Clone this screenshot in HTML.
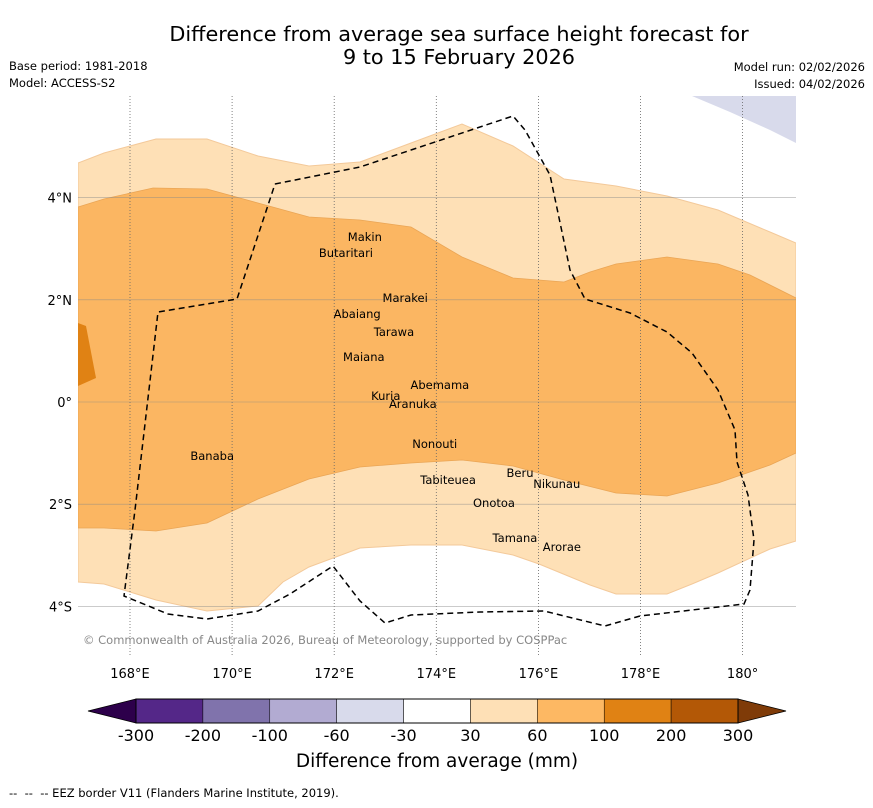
<!DOCTYPE html>
<html><head><meta charset="utf-8"><style>
body{margin:0;background:#fff;font-family:"DejaVu Sans","Liberation Sans",sans-serif}
svg text{font-family:"DejaVu Sans","Liberation Sans",sans-serif}
</style></head><body>
<svg id="chart" width="873" height="804" viewBox="0 0 873 804" xmlns="http://www.w3.org/2000/svg">
<rect width="873" height="804" fill="#fff"/>
<text x="459" y="41" text-anchor="middle" font-size="20.8">Difference from average sea surface height forecast for</text>
<text x="459" y="64" text-anchor="middle" font-size="20.8">9 to 15 February 2026</text>
<text x="9" y="70" font-size="11.5">Base period: 1981-2018</text>
<text x="9" y="87" font-size="11.5">Model: ACCESS-S2</text>
<text x="865" y="71" text-anchor="end" font-size="11.5">Model run: 02/02/2026</text>
<text x="865" y="88" text-anchor="end" font-size="11.5">Issued: 04/02/2026</text>
<g id="map"></g>
<g id="cbar"></g>
<text x="437" y="767" text-anchor="middle" font-size="18.5">Difference from average (mm)</text>
<text x="9" y="797" font-size="11.5" xml:space="preserve" style="white-space:pre">--  --  -- EEZ border V11 (Flanders Marine Institute, 2019).</text>
</svg>
<script>
const lonTicks=[168,170,172,174,176,178,180];
const lonLabels=["168°E","170°E","172°E","174°E","176°E","178°E","180°"];
const latTicks=[4,2,0,-2,-4];
const latLabels=["4°N","2°N","0°","2°S","4°S"];
const cbarBounds=["-300","-200","-100","-60","-30","30","60","100","200","300"];
const cbarColors=["#542788","#8073ac","#b2abd2","#d8daeb","#ffffff","#fee0b6","#fdb863","#e08214","#b35806"];
const P=(a)=>a.map(p=>[168+(p[0]-130)/51.05,(402-p[1])/51.1]);
const light=P([[78,163],[104,153],[156,139],[207,139],[258,156],[309,166],[360,162],[411,143],[462,124],[513,146],[564,179],[616,186],[667,196],[718,210],[770,232],[796,243],[796,541],[770,549],[718,573],[692,584],[667,594],[616,594],[590,585],[539,564],[513,555],[462,545],[411,545],[360,548],[309,567],[283,582],[258,606],[207,611],[156,600],[104,584],[78,582]]);
const mid=P([[78,207],[104,199],[153,188],[207,189],[258,203],[309,217],[360,220],[411,227],[462,257],[513,278],[564,282],[590,272],[616,264],[667,257],[718,264],[750,275],[796,298],[796,453],[770,465],[718,483],[667,496],[616,493],[564,480],[513,466],[462,460],[411,463],[360,467],[309,479],[258,499],[207,523],[156,531],[104,528],[78,528]]);
const dark=P([[78,323],[86,326],[96,378],[78,386]]);
const purple=P([[692,96],[796,96],[796,143],[770,130],[730,112]]);
const eez=P([[275,184],[360,167],[513,116],[525,130],[550,175],[570,270],[585,299],[630,313],[667,332],[692,353],[718,390],[735,430],[737,462],[748,495],[754,540],[750,590],[744,604],[640,616],[605,626],[544,611],[480,612],[411,615],[385,623],[360,601],[333,566],[290,594],[258,611],[207,619],[168,614],[124,596],[135,510],[158,312],[237,299],[275,184]]);
const islands=[["Makin",172.60,3.23],["Butaritari",172.23,2.92],["Marakei",173.39,2.04],["Abaiang",172.45,1.72],["Tarawa",173.17,1.37],["Maiana",172.58,0.88],["Abemama",174.07,0.33],["Kuria",173.01,0.12],["Aranuka",173.54,-0.04],["Nonouti",173.97,-0.82],["Banaba",169.61,-1.06],["Beru",175.64,-1.39],["Nikunau",176.36,-1.60],["Tabiteuea",174.23,-1.53],["Onotoa",175.13,-1.98],["Tamana",175.54,-2.66],["Arorae",176.46,-2.84]];
const x=lon=>130+(lon-168)*51.05, y=lat=>402-lat*51.1;
const NS="http://www.w3.org/2000/svg";
const map=document.getElementById('map');
function mk(t,a,parent){const e=document.createElementNS(NS,t);for(const k in a)e.setAttribute(k,a[k]);(parent||map).appendChild(e);return e;}
const pts=a=>a.map(p=>x(p[0]).toFixed(1)+","+y(p[1]).toFixed(1)).join(" ");
const cp=mk('clipPath',{id:'clip'});
mk('rect',{x:78,y:96,width:718,height:560},cp);
const g=mk('g',{'clip-path':'url(#clip)'});
let e;
e=mk('polygon',{points:pts(light),fill:'#fee0b6',stroke:'#f3c99a','stroke-width':1},g);


e=mk('polygon',{points:pts(mid),fill:'#fbb662',stroke:'#eaa555','stroke-width':0.8},g);


e=mk('polygon',{points:pts(dark),fill:'#e08214'},g);


e=mk('polygon',{points:pts(purple),fill:'#d8daeb'},g);


lonTicks.forEach((v,i)=>{
 e=mk('line',{x1:x(v),x2:x(v),y1:96,y2:656,stroke:'#666','stroke-width':0.8,'stroke-dasharray':'1,2'},g);
 
 
 e=mk('text',{x:x(v),y:678,'text-anchor':'middle','font-size':13});e.textContent=lonLabels[i];
 
 
});
latTicks.forEach((v,i)=>{
 e=mk('line',{x1:78,x2:796,y1:y(v),y2:y(v),stroke:'#888','stroke-width':0.6,opacity:0.7},g);
 
 
 e=mk('text',{x:72,y:y(v)+5,'text-anchor':'end','font-size':13});e.textContent=latLabels[i];
 
 
});
e=mk('polyline',{points:pts(eez),fill:'none',stroke:'#000','stroke-width':1.5,'stroke-dasharray':'6,4'},g);


islands.forEach(d=>{
 e=mk('text',{x:x(d[1]),y:y(d[2])+4,'text-anchor':'middle','font-size':11.5},g);e.textContent=d[0];
 
 
});
e=mk('text',{x:83,y:644,'font-size':11.5,fill:'#888'},g);e.textContent="© Commonwealth of Australia 2026, Bureau of Meteorology, supported by COSPPac";


const cb=document.getElementById('cbar');
const x0=136,x1=738,bw=(x1-x0)/cbarColors.length,cy=699,ch=24;
e=mk('polygon',{points:`88,711 ${x0},${cy} ${x0},${cy+ch}`,fill:'#2d004b',stroke:'#000','stroke-width':0.8},cb);


e=mk('polygon',{points:`786,711 ${x1},${cy} ${x1},${cy+ch}`,fill:'#7f3b08',stroke:'#000','stroke-width':0.8},cb);


cbarColors.forEach((c,i)=>{
 e=mk('rect',{x:x0+i*bw,y:cy,width:bw,height:ch,fill:c,stroke:'#000','stroke-width':0.5},cb);
 
 
});
mk('rect',{x:x0,y:cy,width:x1-x0,height:ch,fill:'none',stroke:'#000','stroke-width':1},cb);
cbarBounds.forEach((t,i)=>{
 e=mk('text',{x:x0+i*bw,y:741,'text-anchor':'middle','font-size':16},cb);e.textContent=t;
 
 
});
</script>
</body></html>
